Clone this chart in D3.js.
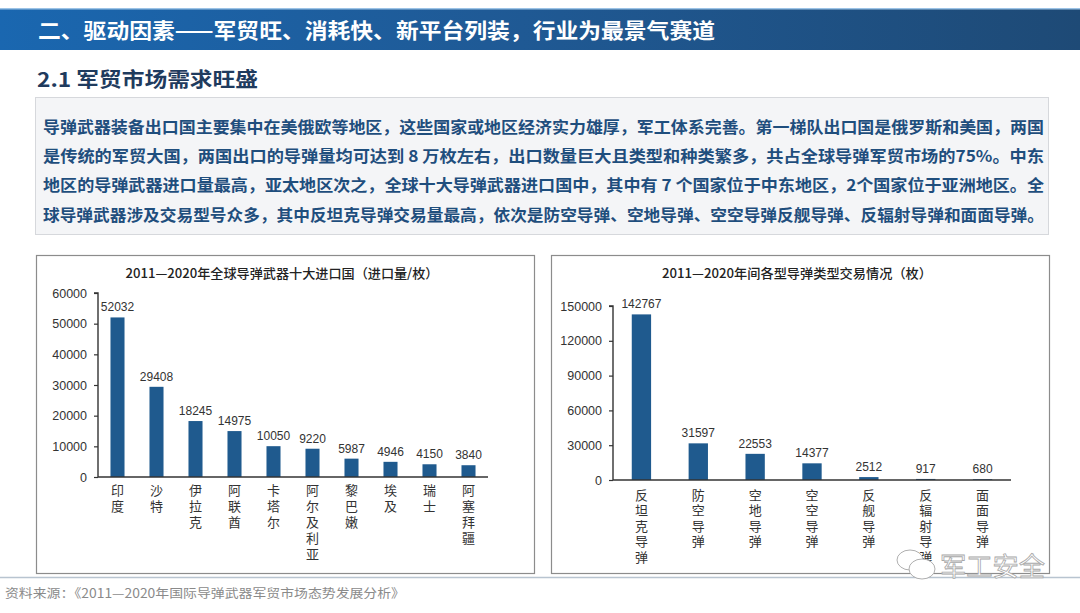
<!DOCTYPE html>
<html><head><meta charset="utf-8">
<script src="https://cdn.jsdelivr.net/npm/d3@7/dist/d3.min.js"></script>
<style>
html,body{margin:0;padding:0;background:#fff;}
svg{display:block;font-family:"Liberation Sans","Noto Sans CJK SC",sans-serif;}
.cjk{font-family:"Noto Sans CJK SC","Liberation Sans",sans-serif;}
.vert{writing-mode:vertical-rl;text-orientation:upright;}
</style></head>
<body><svg id="c" width="1080" height="613"></svg>
<script>
const headerTitle = "二、驱动因素——军贸旺、消耗快、新平台列装，行业为最景气赛道";
const subTitle = "2.1 军贸市场需求旺盛";
const bodyLines = [
  "导弹武器装备出口国主要集中在美俄欧等地区，这些国家或地区经济实力雄厚，军工体系完善。第一梯队出口国是俄罗斯和美国，两国",
  "是传统的军贸大国，两国出口的导弹量均可达到 8 万枚左右，出口数量巨大且类型和种类繁多，共占全球导弹军贸市场的75%。中东",
  "地区的导弹武器进口量最高，亚太地区次之，全球十大导弹武器进口国中，其中有 7 个国家位于中东地区，2个国家位于亚洲地区。全",
  "球导弹武器涉及交易型号众多，其中反坦克导弹交易量最高，依次是防空导弹、空地导弹、空空导弹反舰导弹、反辐射导弹和面面导弹。"
];
const leftTitle = "2011—2020年全球导弹武器十大进口国（进口量/枚）";
const countries = ["印度","沙特","伊拉克","阿联酋","卡塔尔","阿尔及利亚","黎巴嫩","埃及","瑞士","阿塞拜疆"];
const imports = [52032,29408,18245,14975,10050,9220,5987,4946,4150,3840];
const leftTicks = [0,10000,20000,30000,40000,50000,60000];
const rightTitle = "2011—2020年间各型导弹类型交易情况（枚）";
const types = ["反坦克导弹","防空导弹","空地导弹","空空导弹","反舰导弹","反辐射导弹","面面导弹"];
const trades = [142767,31597,22553,14377,2512,917,680];
const rightTicks = [0,30000,60000,90000,120000,150000];
const sourceText = "资料来源：《2011—2020年国际导弹武器军贸市场态势发展分析》";
const watermark = "军工安全";

const svg = d3.select("#c");
const defs = svg.append("defs");
const g1 = defs.append("linearGradient").attr("id","hdr").attr("x1","0").attr("x2","1").attr("y1","0").attr("y2","0");
g1.append("stop").attr("offset","0").attr("stop-color","#1a67b0");
g1.append("stop").attr("offset","0.45").attr("stop-color","#1f5a96");
g1.append("stop").attr("offset","1").attr("stop-color","#1e4a76");

// header
svg.append("rect").attr("x",0).attr("y",8).attr("width",1080).attr("height",42).attr("fill","url(#hdr)");
svg.append("rect").attr("x",0).attr("y",8).attr("width",1080).attr("height",1.5).attr("fill","#9cc3e6");
svg.append("text").attr("class","cjk").attr("x",38).attr("y",37.5)
  .attr("font-size",21).attr("font-weight",700).attr("fill","#fff")
  .attr("textLength",677).attr("lengthAdjust","spacingAndGlyphs").text(headerTitle);

// subtitle
svg.append("text").attr("class","cjk").attr("x",37).attr("y",87)
  .attr("font-size",20).attr("font-weight",700).attr("fill","#1f3b5e")
  .attr("textLength",221).attr("lengthAdjust","spacingAndGlyphs").text(subTitle);

// body box
svg.append("rect").attr("x",35.5).attr("y",97.5).attr("width",1013).attr("height",137)
  .attr("fill","#f4f5f7").attr("stroke","#d6d8dc");
const lineY = [127,156,185,215];
bodyLines.forEach((t,i)=>{
  svg.append("text").attr("class","cjk").attr("x",43).attr("y",lineY[i]+6)
    .attr("font-size",16).attr("font-weight",700).attr("fill","#1f4e7d")
    .attr("textLength",1001).attr("lengthAdjust","spacingAndGlyphs").text(t);
});

function chart(o){
  svg.append("rect").attr("x",o.box[0]+0.5).attr("y",o.box[1]+0.5).attr("width",o.box[2]).attr("height",o.box[3])
    .attr("fill","#fff").attr("stroke","#8c8c8c").attr("stroke-width",1.2);
  svg.append("text").attr("class","cjk").attr("x",o.titleX).attr("y",o.titleY).attr("text-anchor","middle")
    .attr("font-size",13).attr("font-weight",500).attr("fill","#222").attr("textLength",o.titleLen).attr("lengthAdjust","spacingAndGlyphs").text(o.title);
  const x = d3.scaleBand().domain(o.cats).range([o.x0,o.x1]).paddingInner(o.pad).paddingOuter(o.pad/2);
  const y = d3.scaleLinear().domain([0,o.max]).range([o.y0,o.y1]);
  const ax = svg.append("g").attr("transform",`translate(${o.x0},0)`)
    .call(d3.axisLeft(y).tickValues(o.ticks).tickSize(4).tickPadding(7).tickFormat(d3.format("d")));
  ax.select(".domain").attr("stroke","#333").attr("stroke-width",1.4).attr("d",`M-4,${o.y1}H0V${o.y0}`);
  ax.selectAll(".tick line").attr("stroke","#333").attr("stroke-width",1.2);
  ax.selectAll(".tick text").attr("font-size",12.5).attr("fill","#333").attr("font-family","Liberation Sans, sans-serif");
  svg.append("g").selectAll("rect").data(o.vals).join("rect")
    .attr("x",(d,i)=>x(o.cats[i])).attr("width",x.bandwidth())
    .attr("y",d=>y(d)).attr("height",d=>Math.max(0,o.y0-y(d))).attr("fill","#1f5a8e");
  svg.append("line").attr("x1",o.x0).attr("x2",o.x1).attr("y1",o.y0).attr("y2",o.y0)
    .attr("stroke","#333").attr("stroke-width",1.6);
  svg.append("g").selectAll("text").data(o.vals).join("text")
    .attr("x",(d,i)=>x(o.cats[i])+x.bandwidth()/2).attr("y",d=>y(d)-6)
    .attr("text-anchor","middle").attr("font-size",12).attr("fill","#333").text(d=>d);
  svg.append("g").selectAll("text").data(o.cats).join("text")
    .attr("class","cjk vert")
    .attr("x",c=>x(c)+x.bandwidth()/2).attr("y",o.labY-6.5)
    .attr("font-size",13).attr("fill","#333")
    .style("letter-spacing",(o.labStep-13)+"px")
    .text(c=>c);
}

chart({box:[36,255,498,318], title:leftTitle, titleX:282, titleY:277.5, titleLen:313,
  cats:countries, vals:imports, ticks:leftTicks, max:60000,
  x0:98, x1:488, y0:477, y1:293, pad:0.64, labY:490, labStep:16});
chart({box:[551,255,498,318], title:rightTitle, titleX:797, titleY:277.5, titleLen:270,
  cats:types, vals:trades, ticks:rightTicks, max:150000,
  x0:613, x1:1011, y0:480, y1:306, pad:0.66, labY:495, labStep:15.4});

// footer
svg.append("line").attr("x1",0).attr("x2",1080).attr("y1",577.5).attr("y2",577.5).attr("stroke","#b8c4d0").attr("stroke-width",1.5);
svg.append("text").attr("class","cjk").attr("x",5).attr("y",598).attr("font-size",12.5).attr("fill","#8a8a8a")
  .attr("textLength",400).attr("lengthAdjust","spacingAndGlyphs").text(sourceText);

// watermark
const wm = svg.append("g").attr("fill","#fff").attr("stroke","#b0b0b0").attr("stroke-width",1);
wm.append("ellipse").attr("cx",910).attr("cy",560).attr("rx",13).attr("ry",10);
wm.append("ellipse").attr("cx",922).attr("cy",569).attr("rx",13).attr("ry",10);
svg.append("text").attr("class","cjk").attr("x",940).attr("y",576).attr("font-size",26)
  .attr("fill","#fff").attr("stroke","#a8a8a8").attr("stroke-width",0.8)
  .attr("textLength",105).attr("lengthAdjust","spacingAndGlyphs").text(watermark);
</script></body></html>
